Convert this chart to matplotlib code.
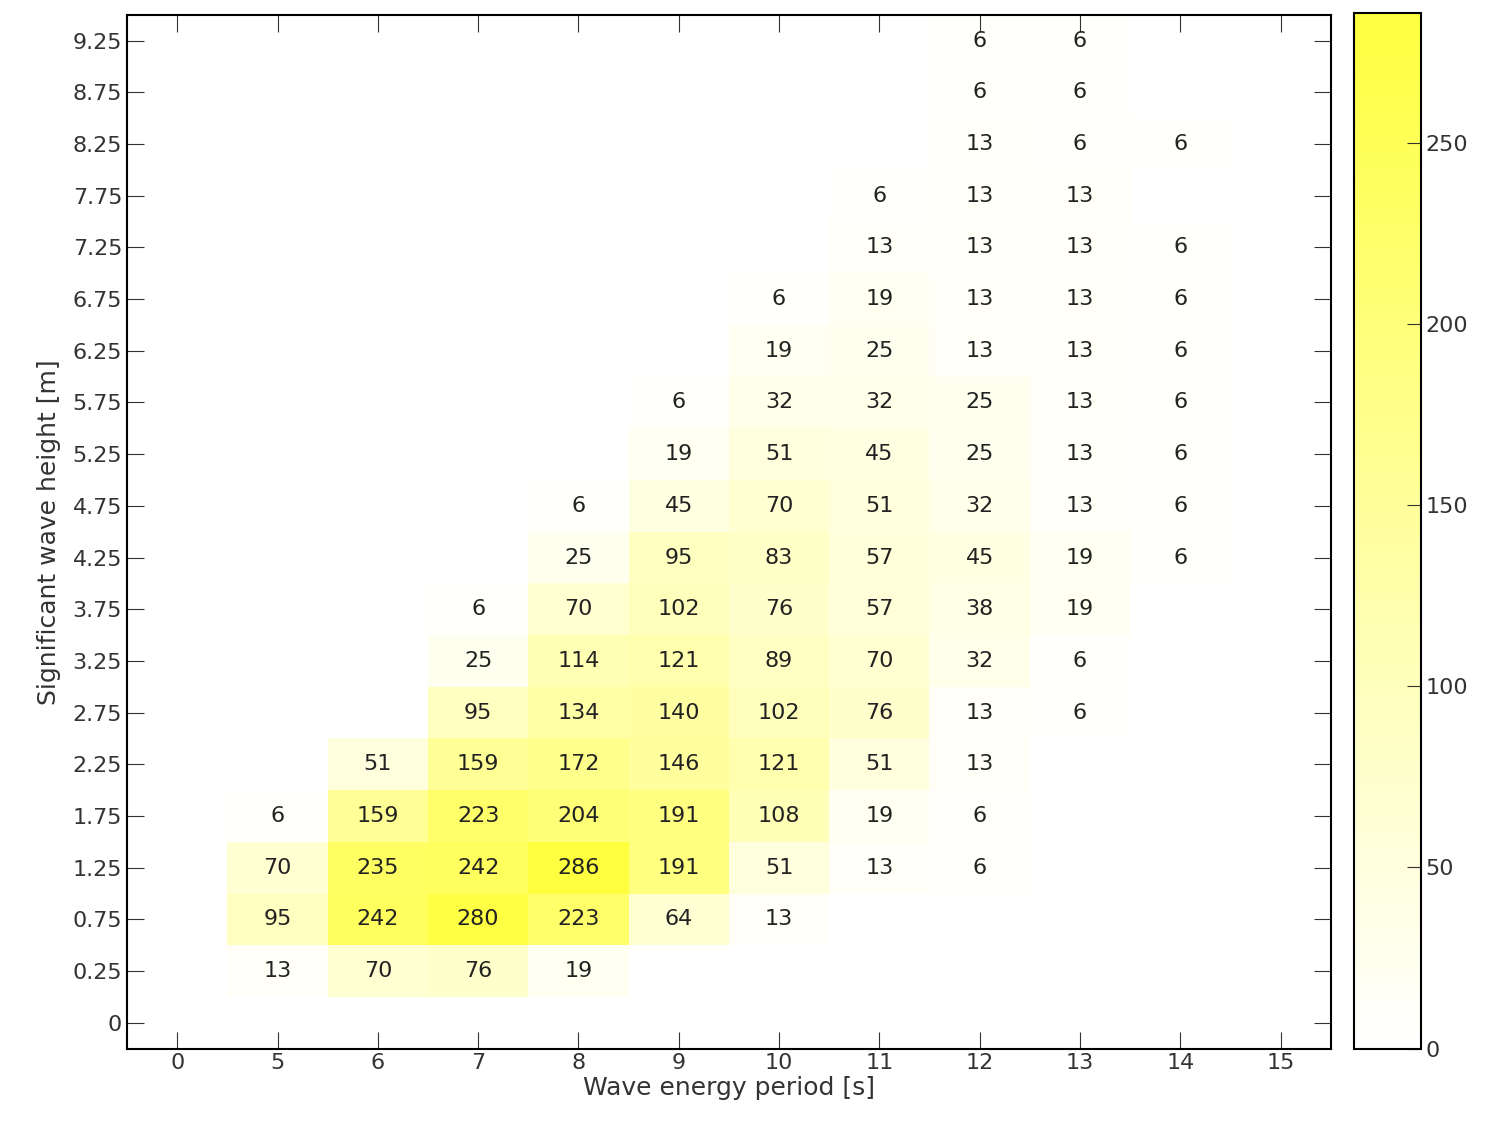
import numpy as np
import matplotlib.pyplot as plt
from matplotlib.colors import LinearSegmentedColormap

periods = ['0', '5', '6', '7', '8', '9', '10', '11', '12', '13', '14', '15']
heights = ['0', '0.25', '0.75', '1.25', '1.75', '2.25', '2.75', '3.25', '3.75', '4.25',
           '4.75', '5.25', '5.75', '6.25', '6.75', '7.25', '7.75', '8.25', '8.75', '9.25']

# occurrences per height row: {period: count}
rows = {
    '9.25': {'12': 6, '13': 6},
    '8.75': {'12': 6, '13': 6},
    '8.25': {'12': 13, '13': 6, '14': 6},
    '7.75': {'11': 6, '12': 13, '13': 13},
    '7.25': {'11': 13, '12': 13, '13': 13, '14': 6},
    '6.75': {'10': 6, '11': 19, '12': 13, '13': 13, '14': 6},
    '6.25': {'10': 19, '11': 25, '12': 13, '13': 13, '14': 6},
    '5.75': {'9': 6, '10': 32, '11': 32, '12': 25, '13': 13, '14': 6},
    '5.25': {'9': 19, '10': 51, '11': 45, '12': 25, '13': 13, '14': 6},
    '4.75': {'8': 6, '9': 45, '10': 70, '11': 51, '12': 32, '13': 13, '14': 6},
    '4.25': {'8': 25, '9': 95, '10': 83, '11': 57, '12': 45, '13': 19, '14': 6},
    '3.75': {'7': 6, '8': 70, '9': 102, '10': 76, '11': 57, '12': 38, '13': 19},
    '3.25': {'7': 25, '8': 114, '9': 121, '10': 89, '11': 70, '12': 32, '13': 6},
    '2.75': {'7': 95, '8': 134, '9': 140, '10': 102, '11': 76, '12': 13, '13': 6},
    '2.25': {'6': 51, '7': 159, '8': 172, '9': 146, '10': 121, '11': 51, '12': 13},
    '1.75': {'5': 6, '6': 159, '7': 223, '8': 204, '9': 191, '10': 108, '11': 19, '12': 6},
    '1.25': {'5': 70, '6': 235, '7': 242, '8': 286, '9': 191, '10': 51, '11': 13, '12': 6},
    '0.75': {'5': 95, '6': 242, '7': 280, '8': 223, '9': 64, '10': 13},
    '0.25': {'5': 13, '6': 70, '7': 76, '8': 19},
}

Z = np.zeros((len(heights), len(periods)))
for h, cells in rows.items():
    for p, v in cells.items():
        Z[heights.index(h), periods.index(p)] = v

cmap = LinearSegmentedColormap.from_list('wy', ['#ffffff', '#ffff40'])

fig = plt.figure(figsize=(14.86, 11.41), dpi=100)
ax = fig.add_axes([0.0855, 0.081, 0.81, 0.906])
cax = fig.add_axes([0.911, 0.081, 0.045, 0.908])

mesh = ax.pcolormesh(np.arange(len(periods) + 1) - 0.5, np.arange(len(heights) + 1) - 0.5,
                     Z, cmap=cmap, vmin=0, vmax=286)
for i in range(len(heights)):
    for j in range(len(periods)):
        if Z[i, j] > 0:
            ax.text(j, i, str(int(Z[i, j])), ha='center', va='center', fontsize=16, color='#222222')

ax.set_xticks(range(len(periods)))
ax.set_xticklabels(periods)
ax.set_yticks(range(len(heights)))
ax.set_yticklabels(heights)
ax.set_xlim(-0.5, len(periods) - 0.5)
ax.set_ylim(-0.5, len(heights) - 0.5)
ax.tick_params(direction='in', top=True, right=True, length=12, labelsize=16, colors='#333333')
for s in ax.spines.values():
    s.set_linewidth(1.5)
ax.set_xlabel('Wave energy period [s]', fontsize=18, color='#333333', labelpad=2)
ax.set_ylabel('Significant wave height [m]', fontsize=18, color='#333333', labelpad=8)

cb = fig.colorbar(mesh, cax=cax, ticks=[0, 50, 100, 150, 200, 250])
cb.ax.tick_params(direction='in', length=10, labelsize=16, colors='#333333')
cb.outline.set_linewidth(1.5)

fig.savefig('out.png', dpi=100)
